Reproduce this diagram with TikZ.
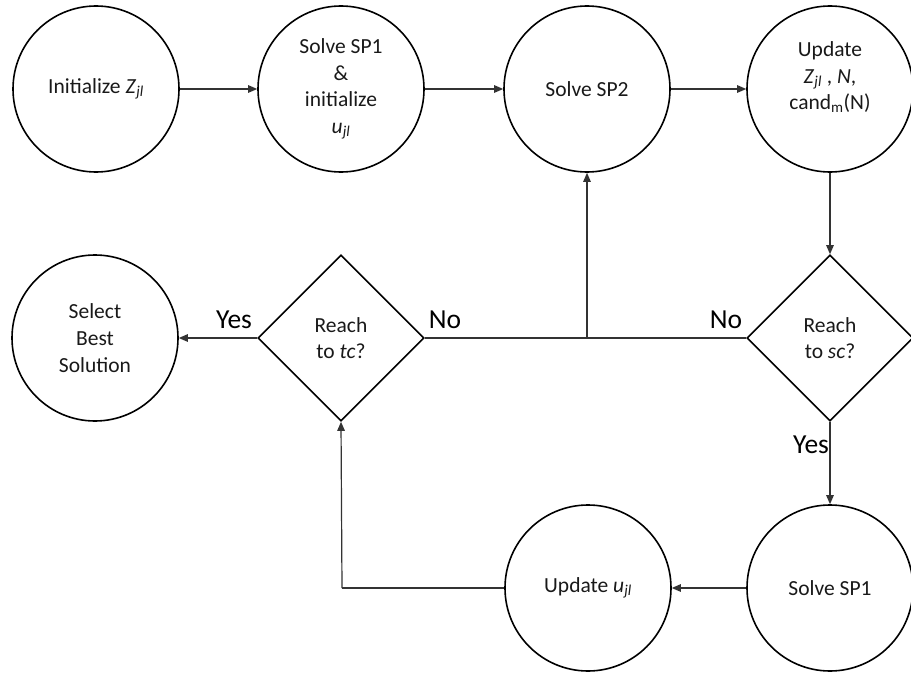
\documentclass[tikz,border=0pt]{standalone}
\usepackage{fontspec}
\setmainfont{Carlito}
\usetikzlibrary{shapes.geometric,arrows.meta}

\begin{document}
\begin{tikzpicture}[x=1pt,y=-1pt,
  every node/.style={font=\fontsize{21.5}{26.7}\selectfont, text=black!90, align=center},
  proc/.style={draw=black, line width=1.6pt, circle, minimum size=166pt, inner sep=0pt},
  test/.style={draw=black, line width=1.6pt, diamond, minimum width=166pt, minimum height=166pt, inner sep=0pt},
  link/.style={draw=black!80, line width=1.2pt},
  flow/.style={link, -{Triangle[length=9pt,width=7.5pt]}},
  answer/.style={font=\fontsize{27.5}{32}\selectfont, text=black}
]
\useasboundingbox (0,0) rectangle (911,677);

% process circles
\node[proc] (init) at (96,89) {Initialize \textit{Z}\textsubscript{\textit{jl}}};
\node[proc] (sp1a) at (341,89) {Solve SP1\\\&\\initialize\\\textit{u}\textsubscript{\textit{jl}}};
\node[proc] (sp2)  at (587,89) {Solve SP2};
\node[proc] (upd)  at (830,89) {Update\\\textit{Z}\textsubscript{\textit{jl}} , \textit{N},\\cand\textsubscript{m}(N)\\\mbox{}};
\node[proc] (best) at (95,338) {Select\\Best\\Solution};
\node[proc] (updu) at (588,588) {Update \textit{u}\textsubscript{\textit{jl}}};
\node[proc] (sp1b) at (830,588) {Solve SP1};

% decisions
\node[test] (tc) at (341,338) {Reach\\to \textit{tc}?};
\node[test] (sc) at (830,338) {Reach\\to \textit{sc}?};

% junction below Solve SP2 and corner of the return path
\coordinate (join) at (587,338);
\coordinate (turn) at (342,588);

% connectors
\draw[flow] (init) -- (sp1a);
\draw[flow] (sp1a) -- (sp2);
\draw[flow] (sp2) -- (upd);
\draw[flow] (upd) -- (sc);
\draw[link] (tc.east) -- (join);
\draw[link] (sc.west) -- (join);
\draw[flow] (join) -- (sp2);
\draw[flow] (tc.west) -- (best);
\draw[flow] (sc.south) -- (sp1b);
\draw[flow] (sp1b) -- (updu);
\draw[link] (updu.west) -- (turn);
\draw[flow] (turn) -- (tc.south);

% branch labels
\node[answer] (yes1) at (234,320) {Yes};
\node[answer] (no1)  at (445,320) {No};
\node[answer] (no2)  at (726,320) {No};
\node[answer] (yes2) at (811,445) {Yes};
\end{tikzpicture}
\end{document}
